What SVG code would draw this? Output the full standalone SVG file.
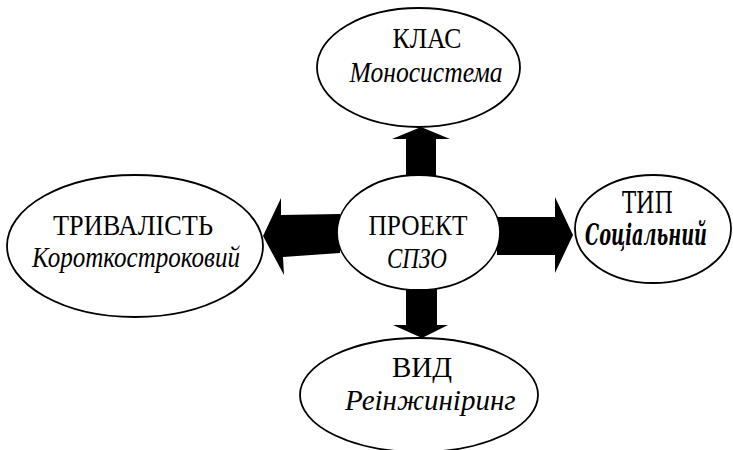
<svg xmlns="http://www.w3.org/2000/svg" width="733" height="450" viewBox="0 0 733 450">
<rect width="733" height="450" fill="#fff"/>
<g id="connectors" fill="#000">
<polygon points="406,180 406,139 392,139 421,127 450,139 436,139 436,180"/>
<polygon points="406,285 406,325 393,325 422,338 448,325 437,325 437,285"/>
<polygon points="340,214 281,215 281,198 263,236 284,275 283,257 340,253"/>
<polygon points="497,217 555,217 555,197 573,235 555,273 555,255 497,255"/>
</g>
<g id="node-project">
<ellipse cx="418.5" cy="232.5" rx="81.5" ry="57.5" fill="#fff" stroke="#000" stroke-width="1.8"/>
<text x="368.5" y="235" font-family="Liberation Serif" font-size="29" textLength="99" lengthAdjust="spacingAndGlyphs">ПРОЕКТ</text>
<text x="387" y="268" font-family="Liberation Serif" font-style="italic" font-size="29" textLength="60" lengthAdjust="spacingAndGlyphs">СПЗО</text>
</g>
<g id="node-klas">
<ellipse cx="418.5" cy="67.5" rx="101.5" ry="59.5" fill="#fff" stroke="#000" stroke-width="1.8"/>
<text x="392.5" y="48" font-family="Times New Roman" font-size="29" textLength="69" lengthAdjust="spacingAndGlyphs">КЛАС</text>
<text x="349.5" y="82" font-family="Times New Roman" font-style="italic" font-size="29" textLength="153" lengthAdjust="spacingAndGlyphs">Моносистема</text>
</g>
<g id="node-tryvalist">
<ellipse cx="135" cy="246" rx="128" ry="71" fill="#fff" stroke="#000" stroke-width="1.8"/>
<text x="53" y="235" font-family="Tinos" font-size="29" textLength="160" lengthAdjust="spacingAndGlyphs">ТРИВАЛІСТЬ</text>
<text x="32" y="267" font-family="Tinos" font-style="italic" font-size="29" textLength="208" lengthAdjust="spacingAndGlyphs">Короткостроковий</text>
</g>
<g id="node-typ">
<ellipse cx="653" cy="229" rx="78" ry="54" fill="#fff" stroke="#000" stroke-width="1.8"/>
<text x="622" y="213" font-family="DejaVu Serif" font-size="29" textLength="51" lengthAdjust="spacingAndGlyphs">ТИП</text>
<text x="585" y="245" font-family="DejaVu Serif" font-style="italic" font-weight="bold" font-size="29" textLength="122" lengthAdjust="spacingAndGlyphs">Соціальний</text>
</g>
<g id="node-vyd">
<ellipse cx="419" cy="395" rx="119" ry="57" fill="#fff" stroke="#000" stroke-width="1.8"/>
<text x="392" y="377" font-family="serif" font-size="29">ВИД</text>
<text x="345" y="410" font-family="serif" font-style="italic" font-size="29">Реінжиніринг</text>
</g>
</svg>
